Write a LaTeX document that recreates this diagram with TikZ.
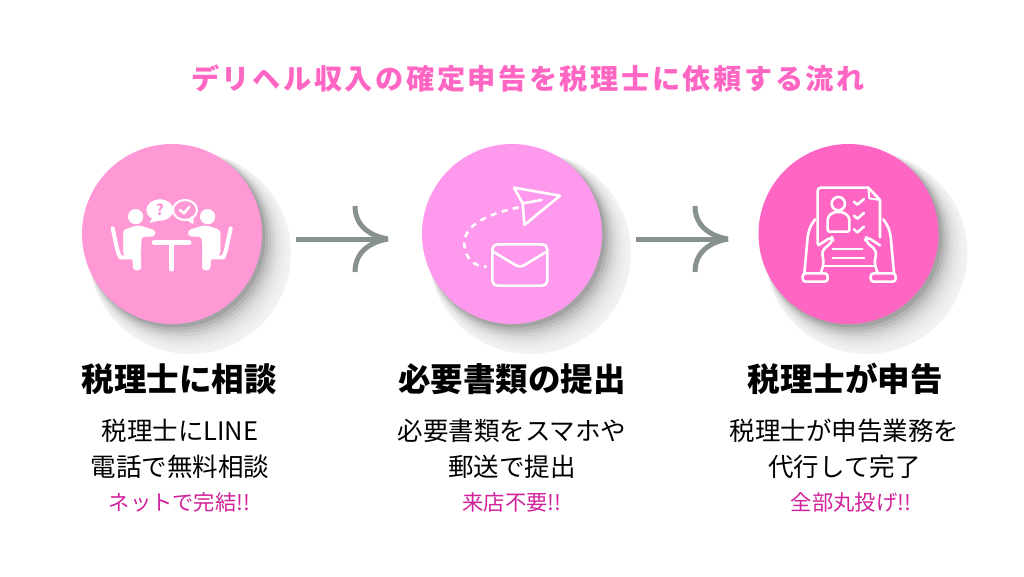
\documentclass[tikz,border=0pt]{standalone}
\usepackage{fontspec}
\setmainfont{Noto Sans CJK JP}
\newfontfamily\titlefont[LetterSpace=9]{Noto Sans CJK JP}
\definecolor{stepa}{HTML}{FF99D6}
\definecolor{stepb}{HTML}{FF99EE}
\definecolor{stepc}{HTML}{FF66C4}
\definecolor{titlepink}{HTML}{FF66C4}
\definecolor{notepink}{HTML}{D0209A}
\definecolor{flowgray}{HTML}{87918D}
\tikzset{
  stepdisc/.style={circle,fill=#1,minimum size=180pt,inner sep=0pt},
  headtext/.style={font=\fontsize{32.5}{36}\bfseries\selectfont},
  bodytext/.style={font=\fontsize{25.5}{28}\selectfont},
  notetext/.style={font=\fontsize{21.3}{24}\selectfont,text=notepink},
  flowline/.style={draw=flowgray,line width=5pt},
  iconline/.style={draw=white,line width=2.6pt,line join=round,line cap=round},
  iconfill/.style={fill=white,draw=white,line width=0.5pt,line join=round}
}
\begin{document}
\begin{tikzpicture}[x=1pt,y=-1pt]
  \useasboundingbox (0,0) rectangle (1024,576);

  \node[font=\titlefont\fontsize{28.2}{30}\bfseries\selectfont,text=titlepink] (title) at (528,79) {デリヘル収入の確定申告を税理士に依頼する流れ};

  % soft shadows, outer layer first
  \foreach \x in {172,512,848.5} {
    \foreach \t / \g in {1/5,0.9/6,0.8/7,0.7/9,0.6/11,0.5/14,0.4/18,0.3/23,0.2/29,0.1/36} {
      \fill[black!\g] ({\x+2+16*\t},{236+17*\t}) circle ({88.5+12.5*\t});
    }
  }

  % discs and their texts
  \def \Steps {
    a/172/179/180/179.5/stepa/税理士に相談/税理士にLINE/電話で無料相談/ネットで完結!!,
    b/512/512/512/512/stepb/必要書類の提出/必要書類をスマホや/郵送で提出/来店不要!!,
    c/848.5/845/844.5/851/stepc/税理士が申告/税理士が申告業務を/代行して完了/全部丸投げ!!}
  \foreach \id / \x / \hx / \bx / \nx / \col / \head / \lineone / \linetwo / \note in \Steps {
    \node[stepdisc=\col] (disc\id) at (\x,234) {};
    \node[headtext] (head\id) at (\hx,379) {\head};
    \node[bodytext] (bodyone\id) at (\bx,431) {\lineone};
    \node[bodytext] (bodytwo\id) at (\bx,467) {\linetwo};
    \node[notetext] (note\id) at (\nx,502) {\note};
  }

  % arrows between the discs
  \coordinate (flowa) at (296,239);
  \coordinate (tipa) at (388,239);
  \coordinate (flowb) at (636,239);
  \coordinate (tipb) at (728,239);
  \foreach \from / \tip in {flowa/tipa,flowb/tipb} {
    \draw[flowline] (\from) -- (\tip);
    \draw[flowline] ([shift={(-33,-33)}]\tip) .. controls ([shift={(-33,-13)}]\tip) and ([shift={(-18,-3)}]\tip) .. (\tip);
    \draw[flowline] ([shift={(-33,33)}]\tip) .. controls ([shift={(-33,13)}]\tip) and ([shift={(-18,3)}]\tip) .. (\tip);
  }

  % meeting icon
  \begin{scope}[shift={(70,150)},x=1pt/3,y=-1pt/3]
    \foreach \s / \o in {1/0,-1/610} {
      \begin{scope}[shift={(\o,0)},xscale=\s]
        \fill[iconfill] (197,200) circle (22);
        \fill[iconfill,rounded corners=3pt] (160,240) -- (205,226) -- (255,241) -- (255,258) -- (214,260) -- (212,310) -- (213,360) -- (190,360) -- (188,324) -- (160,315) -- cycle;
        \draw[iconline,line width=4pt] (128,235) -- (142,300) -- (150,322) -- (190,322);
      \end{scope}
    }
    \draw[iconline,line width=4.5pt] (252,278) -- (358,278);
    \draw[iconline,line width=4.5pt] (305,278) -- (305,358);
    \fill[iconfill] (270,180) ellipse (40 and 31);
    \fill[iconfill] (250,200) -- (240,218) -- (275,208) -- cycle;
    \node[font=\fontsize{15}{16}\bfseries\selectfont,text=stepa,inner sep=0pt] (askmark) at (270,180) {?};
    \draw[iconline,line width=2pt] (345,180) ellipse (36 and 30);
    \draw[iconline,line width=2pt] (352,208) -- (368,218) -- (366,200);
    \draw[iconline,line width=2.4pt] (330,180) -- (342,190) -- (358,170);
  \end{scope}

  % paper plane and envelope icon
  \begin{scope}[shift={(410,150)},x=1pt/3,y=-1pt/3]
    \draw[iconline] (312,113) -- (450,137) -- (343,225) -- (338,160) -- cycle;
    \draw[iconline] (338,160) -- (395,150);
    \draw[iconline,dash pattern=on 6pt off 5.5pt,line cap=butt] (326,172) .. controls (220,195) and (160,230) .. (163,285) .. controls (165,325) and (195,352) .. (230,350);
    \draw[iconline,rounded corners=5pt] (247,283) rectangle (412,407);
    \draw[iconline,rounded corners=4pt] (249,305) -- (330,353) -- (410,305);
  \end{scope}

  % document and hands icon
  \begin{scope}[shift={(750,150)},x=1pt/3,y=-1pt/3]
    \draw[iconline,rounded corners=3pt] (203,282) -- (203,113) -- (355,113);
    \draw[iconline] (355,113) -- (390,150) -- (390,262);
    \draw[iconline,line width=2pt] (355,113) -- (358,145) -- (390,150);
    \draw[iconline] (265,161) circle (20);
    \draw[iconline,rounded corners=2pt] (233,245) -- (233,215) .. controls (233,195) and (250,186) .. (265,186) .. controls (280,186) and (298,195) .. (298,215) -- (298,245) -- cycle;
    \foreach \y in {155,197,238} {
      \draw[iconline] (312,\y) -- (322,\y+9) -- (342,\y-8);
    }
    \draw[iconline,line width=2pt] (248,297) -- (338,297);
    \draw[iconline,line width=2pt] (248,323) -- (343,323);
    \draw[iconline,line width=2pt] (220,348) -- (375,348);
    \foreach \s / \o in {1/0,-1/595} {
      \begin{scope}[shift={(\o,0)},xscale=\s]
        \draw[iconline,rounded corners=3pt] (158,370) rectangle (233,395);
        \draw[iconline] (163,370) -- (173,260) .. controls (176,240) and (182,225) .. (195,208);
        \draw[iconline,rounded corners=4pt] (205,286) -- (245,260) -- (250,272) -- (215,303) -- (222,340) -- (212,370);
      \end{scope}
    }
  \end{scope}
\end{tikzpicture}
\end{document}
